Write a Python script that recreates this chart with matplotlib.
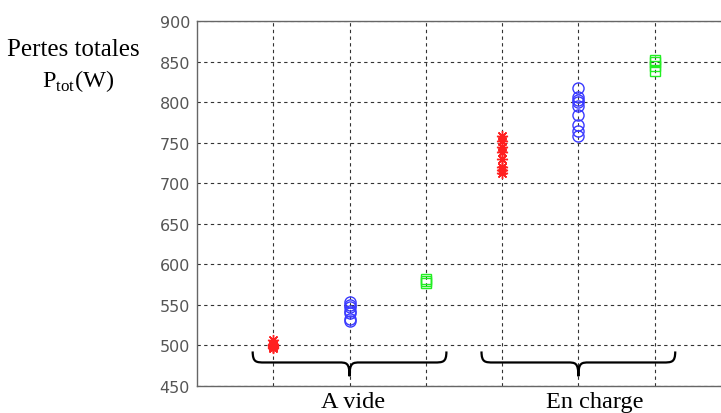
import numpy as np
import matplotlib.pyplot as plt
from matplotlib.path import Path
from matplotlib.patches import PathPatch

plt.rcParams['mathtext.fontset'] = 'custom'
plt.rcParams['mathtext.rm'] = 'Liberation Serif'

# measured total losses (W), one list per condition / configuration
vide_red = [507, 502, 500, 499, 498, 497]
vide_blue = [553, 550, 547, 543, 540, 533, 530]
vide_green = [582, 579, 577]
charge_red = [758, 752, 745, 738, 730, 720, 716, 713]
charge_blue = [818, 806, 803, 800, 795, 784, 772, 765, 758]
charge_green = [852, 849, 845, 838]

group_labels = ['A vide', 'En charge']
yticks = [450, 500, 550, 600, 650, 700, 750, 800, 850, 900]

ASTER = (8, 2, 0)  # matlab-like '*'
series = [
    (1, vide_red, ASTER, '#ff2020'),
    (2, vide_blue, 'o', '#3a3aff'),
    (3, vide_green, 's', '#22ee22'),
    (4, charge_red, ASTER, '#ff2020'),
    (5, charge_blue, 'o', '#3a3aff'),
    (6, charge_green, 's', '#22ee22'),
]


def brace(ax, xc, half, ytip, yh, ybot, dx=0.16, dc=0.14):
    x0, x1 = xc - half, xc + half
    verts = [
        (x0, ytip),
        (x0, yh), (x0 + dx * 0.3, yh), (x0 + dx, yh),
        (xc - dc, yh),
        (xc - dc * 0.3, yh), (xc, yh), (xc, ybot),
        (xc, yh), (xc + dc * 0.3, yh), (xc + dc, yh),
        (x1 - dx, yh),
        (x1 - dx * 0.3, yh), (x1, yh), (x1, ytip),
    ]
    codes = [Path.MOVETO,
             Path.CURVE4, Path.CURVE4, Path.CURVE4,
             Path.LINETO,
             Path.CURVE4, Path.CURVE4, Path.CURVE4,
             Path.CURVE4, Path.CURVE4, Path.CURVE4,
             Path.LINETO,
             Path.CURVE4, Path.CURVE4, Path.CURVE4]
    ax.add_patch(PathPatch(Path(verts, codes), fill=False, lw=1.6,
                           edgecolor='black', clip_on=False, zorder=4))


fig = plt.figure(figsize=(7.21, 4.14), dpi=100)
ax = fig.add_axes([197 / 721, 27 / 414, 524 / 721, 365 / 414])

for x, vals, mk, col in series:
    ax.plot(np.full(len(vals), x), vals, linestyle='none', marker=mk,
            markersize=8 if mk != 's' else 7.5, markerfacecolor='none',
            markeredgecolor=col, markeredgewidth=1.0, zorder=3)

ax.set_xlim(0, 6.87)
ax.set_ylim(450, 900)
ax.set_xticks([1, 2, 3, 4, 5, 6])
ax.set_xticklabels([])
ax.set_yticks(yticks)
ax.tick_params(length=0, labelsize=11.5, labelcolor='#555555', pad=5)
ax.grid(True, color='#333333', linestyle=(0, (3, 3)), linewidth=0.8)
for side in ['left', 'bottom', 'top']:
    ax.spines[side].set_color('#666666')
    ax.spines[side].set_linewidth(1.0)
ax.spines['right'].set_visible(False)

# braces and group labels under the data
for xc, xt, lab in zip([2, 5], [2.05, 5.22], group_labels):
    brace(ax, xc, 1.27, 492.6, 479, 462)
    ax.text(xt, 424.5, lab, ha='center', va='baseline', fontsize=17.5,
            family='Liberation Serif', clip_on=False)

fig.text(73 / 721, 1 - 50 / 414, 'Pertes totales', ha='center', va='center',
         fontsize=18, family='Liberation Serif')
fig.text(78 / 721, 1 - 81 / 414, r'P$_{\mathrm{tot}}$(W)', ha='center',
         va='center', fontsize=17.5, family='Liberation Serif')

fig.savefig('out.png', dpi=100)
